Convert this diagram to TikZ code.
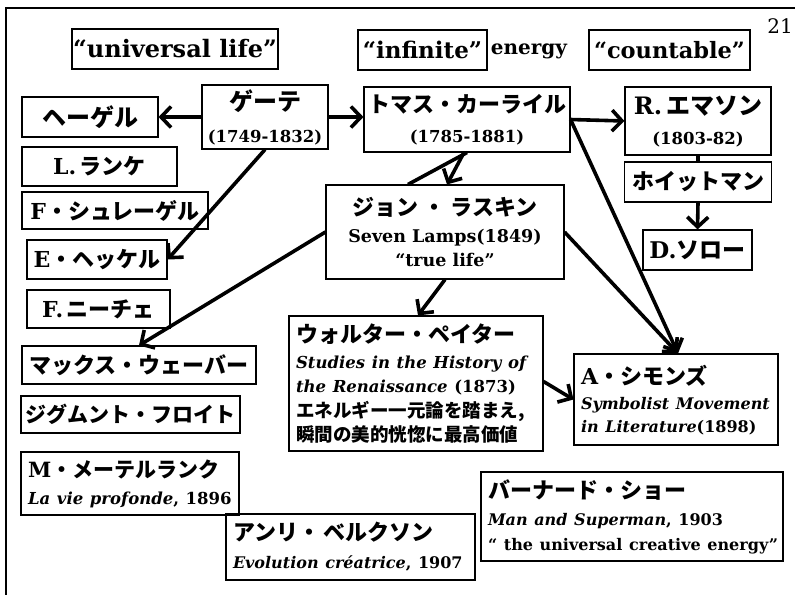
\documentclass[tikz,border=0pt]{standalone}
\usepackage{fontspec}
\setmainfont{DejaVu Serif}
\newfontfamily\jp{Noto Sans CJK JP}
\usetikzlibrary{arrows.meta}
\newcommand\J[1]{{\jp #1}}
\newcommand\fs[1]{\fontsize{#1}{0}\selectfont}
\tikzset{
  box/.style={draw, line width=1.1pt, inner sep=0pt, align=center,
    font={\fontsize{20}{0}\selectfont\lineskiplimit=-100pt\lineskip=0pt\bfseries}},
  lbox/.style={box, align=left, inner xsep=7pt},
  conn/.style={line width=3.6pt, -{Straight Barb[length=10pt,width=21pt]}},
  plainline/.style={line width=3.6pt},
}
\begin{document}
\begin{tikzpicture}[x=1pt,y=-1pt]
\useasboundingbox (0,0) rectangle (795,595);
\fill[white] (0,0) rectangle (795,595);
\draw[line width=1.5pt] (795,8) -- (6,8) -- (6,595);

% top labels
\node[box, minimum width=206pt, minimum height=40pt] (ul) at (175,49) {\fs{24}“universal life”};
\node[box, minimum width=129pt, minimum height=40pt] (inf) at (422.5,50) {\fs{23}“infinite”};
\node[font=\bfseries\fs{20}, inner sep=0pt] (energy) at (529,51) {energy};
\node[box, minimum width=161pt, minimum height=40pt] (cnt) at (669.5,50) {\fs{22.5}“countable”};
\node[font=\fs{20}, inner sep=0pt] (num) at (780,26) {21};

% left column
\node[box, minimum width=126pt, minimum height=64pt] (goethe) at (265,117)
  {\fs{24}\J{ゲーテ}\\[32pt] \fs{16.5}(1749-1832)};
\node[box, minimum width=136pt, minimum height=40pt] (hegel) at (90,117) {\fs{24}\J{ヘーゲル}};
\node[box, minimum width=155pt, minimum height=39pt] (ranke) at (99.5,166.5) {\fs{22}L.\,\J{ランケ}};
\node[box, minimum width=186pt, minimum height=37pt] (schlegel) at (115,210.5) {\fs{22}F\J{・シュレーゲル}};
\node[box, minimum width=140pt, minimum height=39pt] (haeckel) at (97,259.5) {\fs{22}E\J{・ヘッケル}};
\node[box, minimum width=143pt, minimum height=38pt] (nietzsche) at (98.5,309) {\fs{22}F.\,\J{ニーチェ}};
\node[box, minimum width=234pt, minimum height=38pt] (weber) at (139,365) {\fs{22}\J{マックス・ウェーバー}};
\node[box, minimum width=219pt, minimum height=37pt] (freud) at (130.5,414.5) {\fs{21}\J{ジグムント・フロイト}};
\node[lbox, text width=204pt, minimum height=63pt] (maeterlinck) at (130,483.5)
  {\fs{21}M\J{・メーテルランク}\\[27pt] \fs{16.5}\textit{La vie profonde}, 1896};

% centre
\node[box, minimum width=206pt, minimum height=65pt] (carlyle) at (467,119.5)
  {\fs{22}\J{トマス・カーライル}\\[30pt] \fs{16.5}(1785-1881)};
\node[box, minimum width=238pt, minimum height=94pt] (ruskin) at (445,232)
  {\fs{22}\J{ジョン\hspace{5pt}・\hspace{5pt}ラスキン}\\[27pt] \fs{17.5}Seven Lamps(1849)\\[24pt] \fs{17.5}“true life”};
\node[lbox, text width=240pt, minimum height=135pt] (pater) at (416,383.5)
  {\fs{22}\J{ウォルター・ペイター}\\[26pt]
   \fs{16.5}\textit{Studies in the History of}\\[24pt]
   \fs{16.5}\textit{the Renaissance} (1873)\\[25pt]
   \fs{18.5}\J{エネルギー一元論を踏まえ,}\\[24pt]
   \fs{18.5}\J{瞬間の美的恍惚に最高価値}};
\node[lbox, text width=190pt, minimum height=91pt] (symons) at (676,399.5)
  {\fs{22}\rule{0pt}{20pt}A\J{・シモンズ}\\[25pt]
   \fs{16}\textit{Symbolist Movement}\\[23pt]
   \fs{16}\textit{in Literature}(1898)};

% right column
\node[box, minimum width=146pt, minimum height=68pt] (emerson) at (698,121)
  {\fs{24}R.\,\J{エマソン}\\[30pt] \fs{16.5}(1803-82)};
\node[box, minimum width=147pt, minimum height=40pt] (whitman) at (698,182) {\fs{22}\J{ホイットマン}};
\node[box, minimum width=109pt, minimum height=40pt] (thoreau) at (697.5,250) {\fs{23}D.\J{ソロー}};

% bottom
\node[lbox, text width=235pt, minimum height=66pt] (bergson) at (350.5,547)
  {\fs{22}\J{アンリ・\hspace{3pt}ベルクソン}\\[28pt] \fs{16}\textit{Evolution créatrice}, 1907};
\node[lbox, text width=288pt, minimum height=89pt] (shaw) at (632,516.5)
  {\fs{22}\J{バーナード・ショー}\\[27pt]
   \fs{16}\mbox{\textit{Man and Superman}, 1903}\\[25pt]
   \fs{16}\mbox{“ the universal creative energy”}};

% connectors
\draw[conn] (goethe.west) -- (hegel.east);
\draw[conn] (goethe.east) -- (goethe.east -| carlyle.west);
\draw[conn] (goethe.south) -- (haeckel.east);
\draw[conn] (carlyle.east) -- (emerson.west);
\draw[conn] (carlyle.east) -- ([xshift=2pt]symons.north);
\draw[conn] (ruskin.east) -- ([xshift=2pt]symons.north);
\draw[conn] (ruskin.south) -- ([xshift=2pt]pater.north);
\draw[conn] ([yshift=2pt]pater.east) -- (symons.west);
\draw[conn] (ruskin.west) -- (weber.north);
\draw[plainline] (emerson.south) -- (whitman.north);
\draw[conn] (whitman.south) -- (thoreau.north);
\draw[plainline] (carlyle.south) -- ([xshift=-37pt]ruskin.north);
\draw[conn] ([xshift=-3pt]carlyle.south) -- ([xshift=2pt]ruskin.north);
\end{tikzpicture}
\end{document}
